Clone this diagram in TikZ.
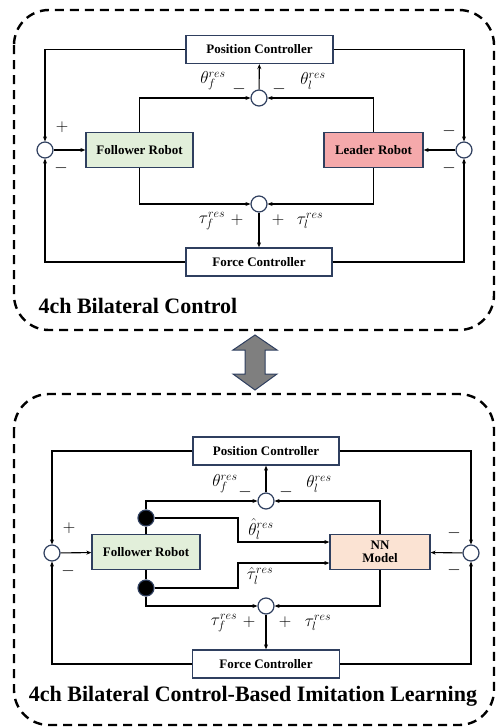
\documentclass[tikz,border=0pt]{standalone}
\usepackage{fontspec}
\setmainfont{Liberation Serif}
\usetikzlibrary{arrows.meta}
\definecolor{navy}{HTML}{2F3F5F}
\definecolor{folgreen}{HTML}{E2EFDA}
\definecolor{leadpink}{HTML}{F5A9AB}
\definecolor{nnpeach}{HTML}{FBE3D3}
\definecolor{arrgray}{HTML}{7F7F7F}
\begin{document}
\begin{tikzpicture}[x=1pt, y=-1pt, line width=1.1pt, >={Stealth[length=5pt,width=4pt]},
    box/.style = {draw=navy, line width=1.3pt, fill=white, inner sep=0, minimum height=28,
                  font=\fontsize{13}{15}\selectfont\bfseries, align=center},
    sumc/.style = {draw=navy, circle, fill=white, minimum size=16, inner sep=0, line width=1.2pt},
    dot/.style = {draw=navy, circle, fill=black, minimum size=16, inner sep=0, line width=1.2pt},
    lab/.style = {inner sep=0, font=\fontsize{17}{20}\selectfont},
    frame/.style = {draw=black, line width=2.4pt, dash pattern=on 9pt off 6pt, rounded corners=35},
    title/.style = {inner sep=0, font=\fontsize{22}{26}\selectfont\bfseries}]

    \useasboundingbox (0,0) rectangle (497,728);

    % 4ch bilateral control
    \draw[frame] (14,10) rectangle (494,330);
    \node [box, minimum width=147] (pos1) at (259.5,49.5) {Position Controller};
    \node [sumc] (s1) at (259,98) {};
    \node [sumc] (l1) at (45,150) {};
    \node [sumc] (r1) at (464,150) {};
    \node [box, fill=folgreen, minimum width=107, minimum height=35] (fol1) at (139.5,150) {Follower Robot};
    \node [box, fill=leadpink, minimum width=99, minimum height=35] (lead1) at (373.5,150) {Leader Robot};
    \node [sumc] (b1) at (259,204) {};
    \node [box, minimum width=146] (frc1) at (259,262) {Force Controller};

    \draw[->] (pos1.west) -| (l1);
    \draw[->] (pos1.east) -| (r1);
    \draw[->] (frc1.west) -| (l1);
    \draw[->] (frc1.east) -| (r1);
    \draw[->] (l1) to (fol1);
    \draw[->] (r1) to (lead1);
    \draw[->] (fol1.north) |- (s1);
    \draw[->] (lead1.north) |- (s1);
    \draw[->] (fol1.south) |- (b1);
    \draw[->] (lead1.south) |- (b1);
    \draw[->] (s1) to (pos1);
    \draw[->] (b1) to (frc1);

    \node [lab] (thf1) at (213,81) {$\theta_f^{res}$};
    \node [lab] (mf1) at (239,89) {$-$};
    \node [lab] (ml1) at (279,89) {$-$};
    \node [lab] (thl1) at (313,81) {$\theta_l^{res}$};
    \node [lab] (tf1) at (212,221) {$\tau_f^{res}$};
    \node [lab] (pf1) at (237,220) {$+$};
    \node [lab] (pl1) at (278,220) {$+$};
    \node [lab] (tl1) at (310,221) {$\tau_l^{res}$};
    \node [lab] (lp1) at (62,127) {$+$};
    \node [lab] (lm1) at (61,168) {$-$};
    \node [lab] (rp1) at (449,131) {$-$};
    \node [lab] (rm1) at (449,168) {$-$};
    \node [title, anchor=west] (ttl1) at (38,306) {4ch Bilateral Control};

    % double arrow
    \draw[navy, line width=1pt, fill=arrgray] (255,335) -- (277,350) -- (265,350) -- (265,374)
        -- (277,374) -- (255,390) -- (233,374) -- (245,374) -- (245,350) -- (233,350) -- cycle;

    % 4ch bilateral control-based imitation learning
    \draw[frame] (14,394) rectangle (494,725);
    \node [box, minimum width=146] (pos2) at (266,451) {Position Controller};
    \node [sumc] (s2) at (266,501) {};
    \node [sumc] (l2) at (52,553) {};
    \node [sumc] (r2) at (471,553) {};
    \node [box, fill=folgreen, minimum width=108, minimum height=35] (fol2) at (146,552) {Follower Robot};
    \node [box, fill=nnpeach, minimum width=100, minimum height=35] (nn2) at (380,552) {NN\\[-2pt]Model};
    \node [dot] (da2) at (146,518) {};
    \node [dot] (db2) at (146,588) {};
    \node [sumc] (b2) at (266,606) {};
    \node [box, minimum width=147] (frc2) at (266,664) {Force Controller};
    \coordinate (ja) at (238,542);
    \coordinate (jb) at (238,563);

    \draw[->] (pos2.west) -| (l2);
    \draw[->] (pos2.east) -| (r2);
    \draw[->] (frc2.west) -| (l2);
    \draw[->] (frc2.east) -| (r2);
    \draw[->] (l2) to (fol2);
    \draw[->] (r2) to (nn2);
    \draw (fol2.north) to (da2);
    \draw[->] (da2) |- (s2);
    \draw (fol2.south) to (db2);
    \draw[->] (db2) |- (b2);
    \draw[->] (da2) -| (ja) -- (nn2.west |- ja);
    \draw[->] (db2) -| (jb) -- (nn2.west |- jb);
    \draw[->] (nn2.north) |- (s2);
    \draw[->] (nn2.south) |- (b2);
    \draw[->] (s2) to (pos2);
    \draw[->] (b2) to (frc2);

    \node [lab] (thf2) at (225,484) {$\theta_f^{res}$};
    \node [lab] (mf2) at (245,492) {$-$};
    \node [lab] (ml2) at (286,492) {$-$};
    \node [lab] (thl2) at (319,484) {$\theta_l^{res}$};
    \node [lab] (thh2) at (261,529) {$\hat{\theta}_l^{res}$};
    \node [lab] (tah2) at (260,576) {$\hat{\tau}_l^{res}$};
    \node [lab] (tf2) at (224,623) {$\tau_f^{res}$};
    \node [lab] (pf2) at (249,622) {$+$};
    \node [lab] (pl2) at (285,622) {$+$};
    \node [lab] (tl2) at (318,623) {$\tau_l^{res}$};
    \node [lab] (lp2) at (69,528) {$+$};
    \node [lab] (lm2) at (68,571) {$-$};
    \node [lab] (rp2) at (454,533) {$-$};
    \node [lab] (rm2) at (454,570) {$-$};
    \node [title] (ttl2) at (253,696) {4ch Bilateral Control-Based Imitation Learning};

\end{tikzpicture}
\end{document}
